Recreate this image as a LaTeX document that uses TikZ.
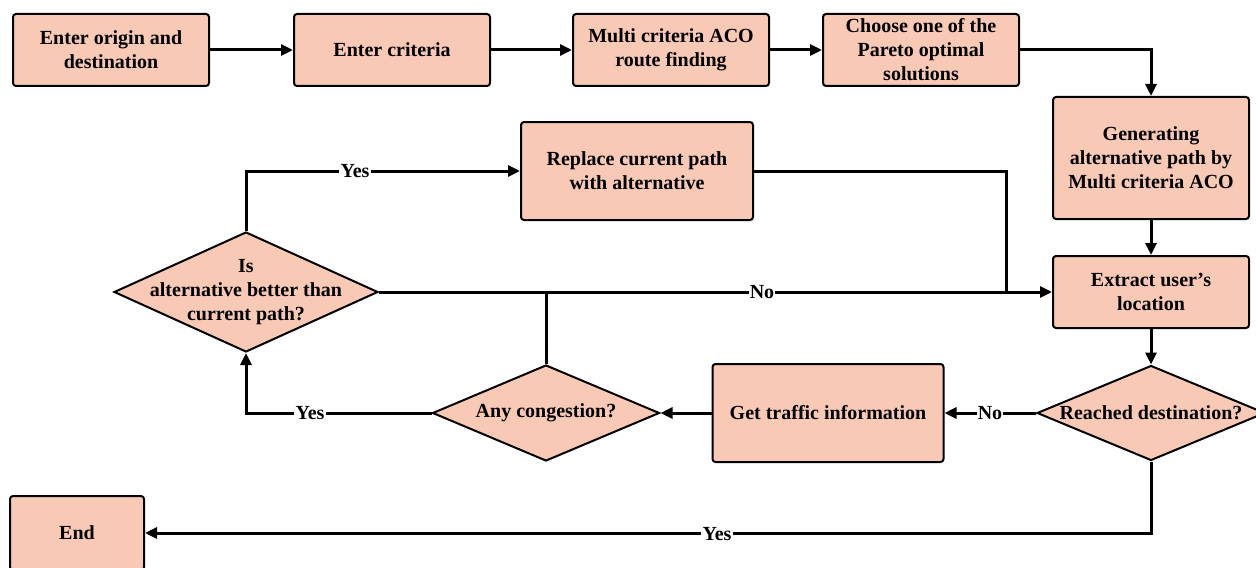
\documentclass[tikz,border=0pt]{standalone}
\usepackage{fontspec}
\setmainfont{Liberation Serif}
\usetikzlibrary{
  arrows.meta,
  shapes.geometric,
  chains,
  positioning,
  scopes
}
\definecolor{peach}{RGB}{248,201,181}
\begin{document}
\begin{tikzpicture}[
      x=0.5pt,y=-0.5pt,
      process/.style={
         rectangle,
         rounded corners=1.5pt,
         line width=1pt,
         draw=black,
         fill=peach,
         align=center,
         font=\bfseries,
         inner sep=1pt
      },
      decision/.style 2 args={
         diamond,
         line width=1pt,
         draw=black,
         fill=peach,
         inner sep=0pt,
         minimum width=#1,
         minimum height=#2
      },
      txt/.style={align=center,font=\bfseries,inner sep=0pt},
      answer/.style={fill=white,inner sep=0.6pt,font=\bfseries},
      point/.style={coordinate},
      >={Triangle[length=6pt,width=5.5pt]},line width=1.5pt,
      tip/.style={->},every join/.style={line width=1.5pt},
      hv path/.style={to path={-| (\tikztotarget)}},
      vh path/.style={to path={|- (\tikztotarget)}}
    ]
    \useasboundingbox (0,0) rectangle (1256,567);
    % top row
    \node (n1) [process, minimum width=98pt, minimum height=36pt] at (111,50) {Enter origin and\\destination};
    \node (n2) [process, minimum width=98pt, minimum height=36pt] at (392,50) {Enter criteria};
    \node (n3) [process, minimum width=98pt, minimum height=36pt] at (671,50) {Multi criteria ACO\\route finding};
    \node (n4) [process, minimum width=98pt, minimum height=36pt] at (921,50) {Choose one of the\\Pareto optimal\\solutions};
    % right column
    \node (n5) [process, minimum width=98pt, minimum height=61pt] at (1151,158) {Generating\\alternative path by\\Multi criteria ACO};
    \node (n6) [process, minimum width=98pt, minimum height=36pt] at (1151,292) {Extract user’s\\location};
    \node (n7) [decision={114pt}{47.5pt}, label={[txt]center:Reached destination?}] at (1151,413) {};
    % middle
    \node (n8) [process, minimum width=115.5pt, minimum height=49pt] at (828,413) {Get traffic information};
    \node (n9) [decision={113.5pt}{48pt}, label={[txt]center:Any congestion?}] at (546,413) {};
    \node (n10) [decision={132pt}{60pt}, label={[txt]center:Is\\alternative better than\\current path?}] at (246,292) {};
    \node (n11) [process, minimum width=116pt, minimum height=49pt] at (637,171) {Replace current path\\with alternative};
    \node (n12) [process, minimum width=67pt, minimum height=37pt] at (77,533) {End};
    \node (j1) [point] at (546,292) {};
    \node (j2) [point] at (1006,292) {};
  { [start chain]
       \chainin (n1);
       \chainin (n2)    [join=by tip];
  }
  { [start chain]
       \chainin (n2);
       \chainin (n3)    [join=by tip];
  }
  { [start chain]
       \chainin (n3);
       \chainin (n4)    [join=by tip];
  }
  { [start chain]
       \chainin (n4);
       \chainin (n5)    [join=by {hv path,tip}];
  }
  { [start chain]
       \chainin (n5);
       \chainin (n6)    [join=by tip];
  }
  { [start chain]
       \chainin (n6);
       \chainin (n7)    [join=by tip];
  }
  { [start chain]
       \chainin (n7);
       \chainin (n8)    [join=by tip];
  }
  { [start chain]
       \chainin (n8);
       \chainin (n9)    [join=by tip];
  }
  { [start chain]
       \chainin (n9);
       \chainin (n10)    [join=by {hv path,tip}];
  }
  { [start chain]
       \chainin (n9);
       \chainin (j1)    [join];
  }
  { [start chain]
       \chainin (n10);
       \chainin (n6)    [join=by tip];
  }
  { [start chain]
       \chainin (n10);
       \chainin (n11)    [join=by {vh path,tip}];
  }
  { [start chain]
       \chainin (n11);
       \chainin (j2)    [join=by {hv path}];
  }
  { [start chain]
       \chainin (n7);
       \chainin (n12)    [join=by {vh path,tip}];
  }
    % answers
    \node (a1) [answer] at (355,171) {Yes};
    \node (a2) [answer] at (762,292) {No};
    \node (a3) [answer] at (310,413) {Yes};
    \node (a4) [answer] at (990,413) {No};
    \node (a5) [answer] at (717,534) {Yes};
\end{tikzpicture}
\end{document}
